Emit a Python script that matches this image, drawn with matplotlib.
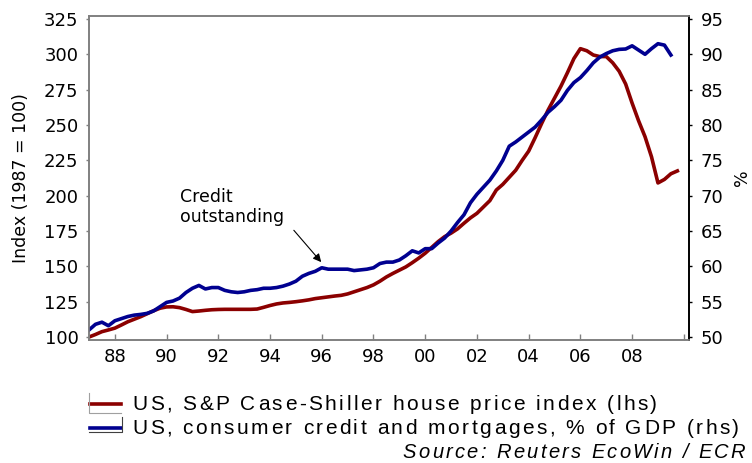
import numpy as np
import matplotlib
matplotlib.use('Agg')
import matplotlib.pyplot as plt
from matplotlib.lines import Line2D
from matplotlib.font_manager import FontProperties

plt.rcParams['font.family'] = ['DejaVu Sans']

# quarterly series, first quarter of 1987 onwards
house_start = 1987.0
house_price = [
    100.0, 101.8, 103.8, 105.0,   # 1987
    106.3, 108.5, 110.8, 112.6,   # 1988
    114.4, 116.5, 118.6, 120.4,   # 1989
    121.3, 121.4, 120.8, 119.5,   # 1990
    118.0, 118.4, 118.9, 119.3,   # 1991
    119.5, 119.6, 119.6, 119.6,   # 1992
    119.6, 119.6, 119.8, 121.0,   # 1993
    122.3, 123.4, 124.1, 124.5,   # 1994
    125.0, 125.6, 126.3, 127.2,   # 1995
    127.8, 128.4, 129.0, 129.5,   # 1996
    130.5, 132.0, 133.5, 135.0,   # 1997
    136.9, 139.5, 142.5, 145.0,   # 1998
    147.3, 149.6, 152.6, 155.8,   # 1999
    159.3, 163.4, 167.5, 171.0,   # 2000
    173.5, 176.5, 180.5, 184.3,   # 2001
    187.5, 192.0, 196.5, 204.0,   # 2002
    208.0, 213.0, 218.0, 225.0,   # 2003
    231.5, 241.0, 251.0, 260.5,   # 2004
    269.0, 277.5, 287.0, 297.0,   # 2005
    304.0, 302.5, 299.5, 298.4,   # 2006
    298.4, 294.0, 288.0, 279.0,   # 2007
    265.5, 253.0, 241.7, 227.5,   # 2008
    209.0, 211.5, 215.5, 217.5,   # 2009
]

credit_start = 1987.0
credit_gdp = [
    51.0, 51.8, 52.1, 51.6,   # 1987
    52.3, 52.6, 52.9, 53.1,   # 1988
    53.2, 53.35, 53.7, 54.3,  # 1989
    54.9, 55.1, 55.5, 56.3,   # 1990
    56.9, 57.3, 56.8, 57.0,   # 1991
    57.0, 56.6, 56.4, 56.3,   # 1992
    56.4, 56.6, 56.7, 56.9,   # 1993
    56.9, 57.0, 57.2, 57.5,   # 1994
    57.9, 58.6, 59.0, 59.3,   # 1995
    59.8, 59.6, 59.6, 59.6,   # 1996
    59.6, 59.4, 59.5, 59.6,   # 1997
    59.8, 60.4, 60.6, 60.6,   # 1998
    60.9, 61.5, 62.2, 61.9,   # 1999
    62.5, 62.5, 63.3, 64.0,   # 2000
    65.0, 66.2, 67.3, 69.0,   # 2001
    70.2, 71.2, 72.2, 73.5,   # 2002
    75.0, 77.0, 77.6, 78.3,   # 2003
    79.0, 79.7, 80.7, 81.8,   # 2004
    82.6, 83.5, 84.9, 86.0,   # 2005
    86.7, 87.7, 88.8, 89.6,   # 2006
    90.1, 90.5, 90.7, 90.75,  # 2007
    91.2, 90.6, 90.0, 90.8,   # 2008
    91.5, 91.3, 89.9,         # 2009
]

year_ticks = list(range(1988, 2011, 2))
year_labels = [f'{y % 100:02d}' if y < 2010 else '' for y in year_ticks]
left_ticks = list(range(100, 326, 25))
right_ticks = list(range(50, 96, 5))

house_label = 'US, S&P Case-Shiller house price index (lhs)'
credit_label = 'US, consumer credit and mortgages, % of GDP (rhs)'
source_label = 'Source: Reuters EcoWin / ECR'

house_x = house_start + 0.25 * np.arange(len(house_price))
credit_x = credit_start + 0.25 * np.arange(len(credit_gdp))

red = '#8b0000'
blue = '#000090'
grey = '#808080'

W, H = 752, 463
fig = plt.figure(figsize=(W / 100, H / 100), dpi=100)
ax = fig.add_axes([89 / W, 1 - 340 / H, 600 / W, 324 / H])
ax2 = ax.twinx()

ax.plot(house_x, house_price, color=red, lw=2.6, solid_joinstyle='round')
ax2.plot(credit_x, credit_gdp, color=blue, lw=2.6, solid_joinstyle='round')

ax.set_xlim(1987.0, 2010.2)
ax.set_ylim(97.9, 327.1)
ax2.set_ylim(49.58, 95.42)

ax.set_xticks(year_ticks)
ax.set_xticklabels(year_labels)
ax.set_yticks(left_ticks)
ax2.set_yticks(right_ticks)

ax.tick_params(axis='x', direction='in', length=4, width=1, color=grey,
               labelsize=13, pad=6)
ax.tick_params(axis='y', direction='out', length=2.5, width=1, color=grey,
               labelsize=13, pad=5)
ax2.tick_params(axis='y', direction='out', length=2.5, width=1, color='black',
                labelsize=13, pad=6)

for a in (ax, ax2):
    for side in ('left', 'bottom', 'top'):
        a.spines[side].set_color(grey)
        a.spines[side].set_linewidth(1.2)
    a.spines['right'].set_color('black')
    a.spines['right'].set_linewidth(1.2)

ax.set_ylabel('Index (1987 = 100)', fontsize=12.5)
ax.yaxis.set_label_coords(-0.098, 0.5)
ax2.set_ylabel('%', fontsize=12.5)
ax2.yaxis.set_label_coords(1.074, 0.5)

# annotation for the blue series
ax2.text(1990.5, 68.4, 'Credit\noutstanding', fontsize=12.5,
         ha='left', va='center', linespacing=1.2)
ax2.annotate('', xy=(1996.05, 60.3), xytext=(1994.85, 65.4),
             arrowprops=dict(arrowstyle='-|>', color='black', lw=0.8,
                             mutation_scale=12))


def fx(px):
    return px / W


def fy(py):
    return 1 - py / H


renderer = fig.canvas.get_renderer()


def spaced_text(x, y, s, size, track, ha='left', style='normal'):
    """Write s one glyph at a time (pixel coords, baseline y) with extra spacing."""
    prop = FontProperties(family='Liberation Sans', size=size, style=style)

    def width(t):
        return renderer.get_text_width_height_descent(t, prop, ismath=False)[0]

    base = width('HH')
    adv = [width('H' + c + 'H') - base for c in s]
    total = sum(adv) + track * (len(s) - 1)
    pos = x if ha == 'left' else x - total
    for c, a in zip(s, adv):
        if c != ' ':
            fig.text(fx(pos + a / 2), fy(y), c, fontproperties=prop,
                     ha='center', va='baseline')
        pos += a + track


# legend drawn below the axes
fig.add_artist(Line2D([fx(90), fx(121)], [fy(404), fy(404)], color=red, lw=2.6))
fig.add_artist(Line2D([fx(89), fx(89), fx(121)], [fy(393), fy(413), fy(413)],
                      color='#a0a0a0', lw=0.8))
fig.add_artist(Line2D([fx(90), fx(121)], [fy(428), fy(428)], color=blue, lw=2.6))
fig.add_artist(Line2D([fx(89), fx(122), fx(122)], [fy(432), fy(432), fy(417)],
                      color='#404040', lw=0.8))

spaced_text(132, 410, house_label, 15, 2.5)
spaced_text(132, 434, credit_label, 15, 2.5)
spaced_text(745, 458, source_label, 14.5, 2.3, ha='right', style='italic')

fig.savefig('out.png', dpi=100)
